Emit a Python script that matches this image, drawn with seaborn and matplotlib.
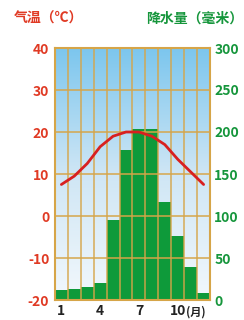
import numpy as np
import pandas as pd
import matplotlib
matplotlib.use("Agg")
import matplotlib.pyplot as plt
import seaborn as sns
from matplotlib.colors import LinearSegmentedColormap

sns.set_style("white")
plt.rcParams['font.family'] = ['Noto Sans CJK SC', 'DejaVu Sans']

months = list(range(1, 13))
temperature = [7.5, 9.5, 12.5, 16.5, 19, 20, 20, 19, 17, 13.5, 10.5, 7.5]
precipitation = [12, 13, 15, 20, 95, 178, 204, 204, 117, 76, 39, 8]
temp_ticks = [-20, -10, 0, 10, 20, 30, 40]
precip_ticks = [0, 50, 100, 150, 200, 250, 300]
x_tick_months = [1, 4, 7, 10]
x_tick_labels = ["1", "4", "7", "10"]

RED = "#e03a24"
GREEN = "#16963c"
BAR = "#0e9a3a"
GRID = "#d6a548"

df = pd.DataFrame({"month": months, "temp": temperature, "precip": precipitation})
df["pos"] = np.arange(len(months))

fig = plt.figure(figsize=(2.44, 3.2), dpi=100)
ax = fig.add_axes([0.225, 0.0625, 0.636, 0.7875])

# background gradient
cmap = LinearSegmentedColormap.from_list("sky", ["#f2f8fc", "#cfe6f5", "#7cc6ee"])
grad = np.linspace(0, 1, 256).reshape(-1, 1)
ax.imshow(grad, aspect="auto", cmap=cmap, origin="lower",
          extent=[-0.5, 11.5, 0, 300], zorder=0)

sns.barplot(data=df, x="pos", y="precip", color=BAR, width=1.0,
            saturation=1, ax=ax, zorder=2, native_scale=True)
for p in ax.patches:
    p.set_edgecolor("none")

ax.set_xlim(-0.5, 11.5)
ax.set_ylim(0, 300)

# grid lines
for v in np.arange(-0.5, 12, 1):
    ax.axvline(v, color=GRID, lw=1.2, zorder=3, alpha=0.85)
for h in precip_ticks:
    ax.axhline(h, color=GRID, lw=1.2, zorder=3, alpha=0.9)

ax.set_xticks([m - 1 for m in x_tick_months])
ax.set_xticklabels(x_tick_labels, fontsize=10, fontweight="bold", color="#222222")
ax.set_xlabel("")
ax.set_ylabel("")
for s in ax.spines.values():
    s.set_color(GRID)
    s.set_linewidth(1.5)

ax2 = ax.twinx()
sns.lineplot(data=df, x="pos", y="temp", color="#d82020", lw=2.0, ax=ax2, zorder=5)
ax2.set_ylim(-20, 40)
ax2.set_ylabel("")
ax2.set_xlabel("")
for s in ax2.spines.values():
    s.set_visible(False)

# precipitation axis on the right, temperature on the left
ax.yaxis.tick_right()
ax.yaxis.set_label_position("right")
ax.set_yticks(precip_ticks)
ax.set_yticklabels([str(t) for t in precip_ticks], color=GREEN,
                   fontsize=10, fontweight="bold")
ax.tick_params(axis="both", length=0, pad=3)

ax2.yaxis.tick_left()
ax2.set_yticks(temp_ticks)
ax2.set_yticklabels([str(t) for t in temp_ticks], color=RED,
                    fontsize=10, fontweight="bold")
ax2.tick_params(axis="y", length=0, pad=4)

fig.text(0.762, 0.006, "(月)", fontsize=8, fontweight="bold", color="#222222",
         ha="left", va="bottom")
fig.text(0.055, 0.942, "气温（℃）", color=RED, fontsize=10, fontweight="bold",
         ha="left", va="center")
fig.text(0.995, 0.942, "降水量（毫米）", color=GREEN, fontsize=10, fontweight="bold",
         ha="right", va="center")

fig.savefig("out.png", dpi=100)
